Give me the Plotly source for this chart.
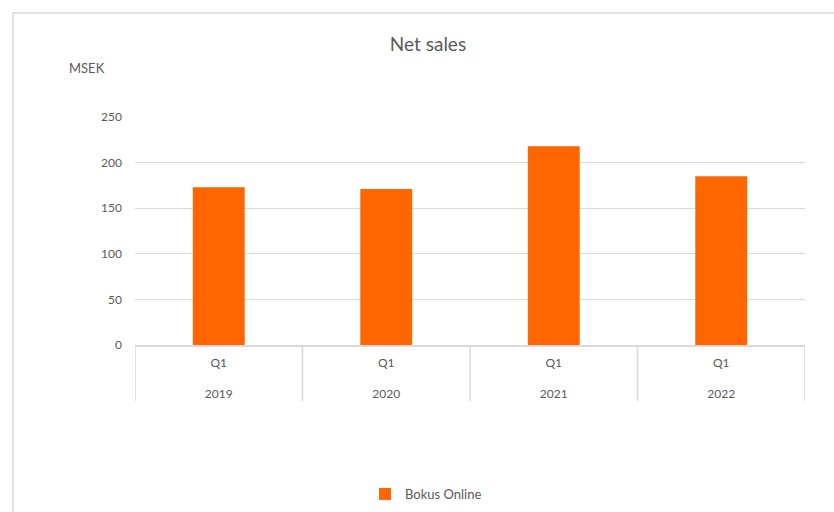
import plotly.graph_objects as go

years = ["2019", "2020", "2021", "2022"]
quarters = ["Q1", "Q1", "Q1", "Q1"]
net_sales = [173, 171, 218, 185]
series_name = "Bokus Online"
y_ticks = [0, 50, 100, 150, 200, 250]

FONT = "Lato, Open Sans, sans-serif"
GRAY = "#595959"
GRID = "#d9d9d9"

tick_text = [f"{q}<br><br>{y}" for q, y in zip(quarters, years)]

fig = go.Figure()
fig.add_trace(go.Bar(
    x=years,
    y=net_sales,
    name=series_name,
    marker=dict(color="#ff6600", line=dict(width=0)),
    showlegend=True,
))

L, R, T, B = 135, 29, 117, 167
W, H = 834, 512
pw, ph = W - L - R, H - T - B

def px_x(p):
    return (p - L) / pw

def px_y(p):
    return (H - B - p) / ph

# category separators below the axis (data x, paper y)
dividers = [dict(type="line", xref="x", yref="paper",
                 x0=i - 0.5, x1=i - 0.5, y0=px_y(345), y1=px_y(401),
                 line=dict(color=GRID, width=1.5))
            for i in range(len(years) + 1)]

fig.update_layout(
    width=W, height=H,
    margin=dict(l=L, r=R, t=T, b=B, autoexpand=False),
    paper_bgcolor="white", plot_bgcolor="white",
    font=dict(family=FONT, color=GRAY, size=12),
    title=dict(text="Net sales", xref="container", x=428 / W, xanchor="center",
               yref="container", y=1 - 44 / H, yanchor="middle",
               font=dict(size=19, color=GRAY, family=FONT)),
    bargap=0.69,
    showlegend=True,
    legend=dict(orientation="h", x=px_x(426), xanchor="center",
                y=px_y(494), yanchor="middle",
                font=dict(size=13, color=GRAY, family=FONT)),
    xaxis=dict(type="category", tickvals=years, ticktext=tick_text,
               range=[-0.5, len(years) - 0.5],
               showgrid=False, showline=True,
               linecolor=GRID, linewidth=1.5, ticks="",
               ticklabelstandoff=6,
               tickfont=dict(size=12, color=GRAY, family=FONT)),
    yaxis=dict(range=[0, 250], tickvals=y_ticks, showgrid=True,
               gridcolor=GRID, gridwidth=1.2, zeroline=False,
               showline=False, ticks="", ticklabelstandoff=12,
               tickfont=dict(size=12, color=GRAY, family=FONT)),
    annotations=[dict(text="MSEK", xref="paper", yref="paper",
                      x=px_x(87), y=px_y(68), xanchor="center",
                      yanchor="middle", showarrow=False,
                      font=dict(size=13, color=GRAY, family=FONT))],
    shapes=[dict(type="rect", xref="paper", yref="paper",
                 x0=px_x(13), x1=px_x(845), y0=px_y(13), y1=px_y(530),
                 line=dict(color=GRID, width=1.5), fillcolor="rgba(0,0,0,0)",
                 layer="below")] + dividers,
)

fig.write_html("out.html",
               config={"displayModeBar": False},
               post_script="document.body.style.margin='0';document.body.style.padding='0';")
